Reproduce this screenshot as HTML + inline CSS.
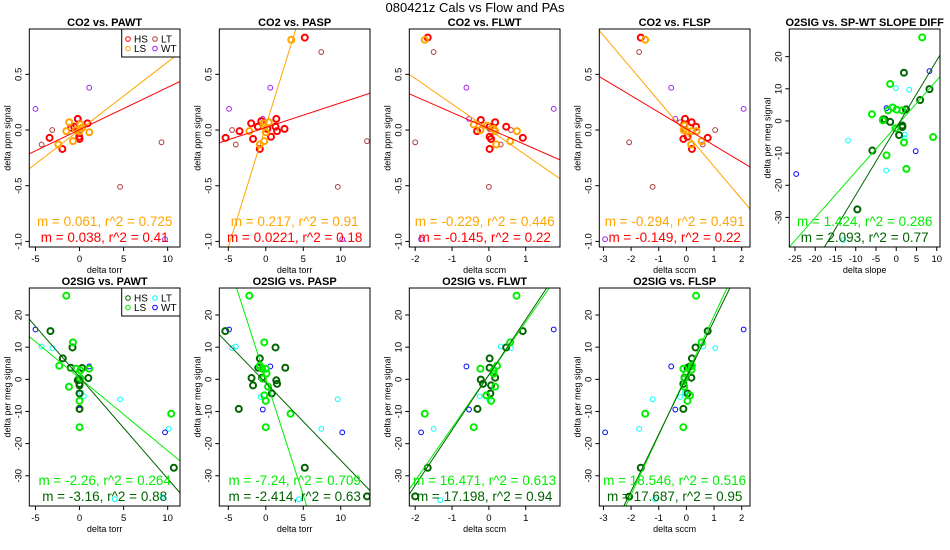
<!DOCTYPE html>
<html><head><meta charset="utf-8">
<style>
html,body{margin:0;padding:0;background:#fff;width:950px;height:550px;overflow:hidden;}
svg{display:block;font-family:"Liberation Sans",Arial,sans-serif;overflow:hidden;}
</style></head>
<body>
<svg id="chart" width="950" height="550" viewBox="0 0 950 550" xmlns="http://www.w3.org/2000/svg">
<text x="475" y="12" text-anchor="middle" font-size="13">080421z   Cals vs Flow and PAs</text>
</svg>
<script>
const co2PawtHS=[[-3.4,-0.07],[-1.95,-0.17],[-0.94,0.02],[-0.04,-0.06],[0,-0.08],[0.9,0.06],[-0.2,0.1],[-0.6,0.03]];
const co2PawtLS=[[-2.4,-0.13],[-1.5,-0.01],[-1.17,0.07],[-0.75,-0.1],[-0.4,0.0],[0.1,0.05],[0.3,0.02],[1.1,-0.02],[0,-0.01]];
const co2PawtLT=[[-3.1,0.0],[-4.3,-0.13],[4.6,-0.51],[9.3,-0.11],[0.1,0.0]];
const co2PawtWT=[[-5.0,0.19],[1.1,0.38],[9.7,-0.98],[-0.2,0.1]];
const co2PaspHS=[[-5.36,-0.07],[-3.5,-0.01],[-1.95,0.06],[-1.7,-0.08],[-1.05,0.03],[-0.8,-0.17],[-0.6,0.08],[0.7,-0.06],[1.3,0.03],[1.4,0.1],[1.5,-0.01],[2.5,0.01],[5.2,0.83],[0.2,0.01]];
const co2PaspLS=[[3.4,0.81],[-2.2,-0.01],[-0.8,-0.13],[-0.2,-0.1],[-0.2,0.03],[0.4,0.07],[0,-0.02],[-0.3,0.06]];
const co2PaspLT=[[-4.5,0],[-4,-0.13],[7.4,0.7],[9.6,-0.51],[13.5,-0.1]];
const co2PaspWT=[[-4.9,0.19],[0.6,0.38],[-0.4,0.1],[10.2,-0.98]];
const co2FlwtHS=[[-1.66,0.83],[-0.22,0.09],[-0.32,-0.01],[0.02,0.03],[0.02,-0.06],[0.06,-0.08],[0.02,-0.17],[0.17,0.07],[0.47,0.03],[0.92,-0.07]];
const co2FlwtLS=[[-1.74,0.81],[-0.41,0.05],[-0.23,0],[-0.05,0.04],[0.13,0.01],[0.17,-0.01],[0.2,-0.13],[0.58,-0.1],[0.76,-0.01]];
const co2FlwtLT=[[-1.5,0.7],[-2.0,-0.11],[0,-0.51],[0.6,0],[0.32,-0.13],[0.02,0.01]];
const co2FlwtWT=[[-0.61,0.38],[1.76,0.19],[-0.54,0.1],[-1.84,-0.98]];
const co2FlspHS=[[-1.65,0.83],[-0.05,0.1],[0.19,0.07],[0.35,0.03],[0.04,-0.06],[-0.11,-0.08],[0.2,-0.17],[0.77,-0.07],[-0.08,0.05]];
const co2FlspLS=[[-1.49,0.81],[-0.07,0.04],[0.01,-0.01],[0.2,-0.01],[0.37,-0.01],[0.17,-0.13],[0.55,-0.1],[-0.1,0]];
const co2FlspLT=[[-1.71,0.7],[-2.07,-0.11],[-1.22,-0.51],[1.04,0],[0.59,-0.13],[-0.07,0.0],[-0.23,0.07]];
const co2FlspWT=[[-0.55,0.38],[2.07,0.19],[-0.4,0.1],[-2.94,-0.98]];
const o2SlopeHS=[[1.9,15],[8.2,9.9],[5.9,6.5],[2.4,3.6],[-3.2,0.5],[-1.5,-0.3],[1.5,-1.4],[1.5,-1.9],[0.7,-4.4],[-5.9,-9.2],[-9.6,-27.5],[-2.8,0.4]];
const o2SlopeLS=[[6.4,26],[-1.5,11.5],[-6,2.1],[-3.3,0.2],[-2,3.3],[-0.9,4.2],[0.1,3.5],[1.5,3.3],[-0.2,-2.3],[1.9,-6.7],[9.1,-5],[-2.4,-10.7],[2.5,-14.9]];
const o2SlopeLT=[[-0.1,10.2],[3.2,9.7],[-11.9,-6.1],[-2.5,-15.4],[2.1,-4.2],[2.1,-5.3],[-13,-37]];
const o2SlopeWT=[[8.2,15.5],[-2.4,4],[4.8,-9.4],[-24.7,-16.5]];
const o2PawtHS=[[-3.3,15],[-1.9,6.5],[-0.8,9.9],[-1.0,3.6],[0.3,3.5],[1.0,0.4],[-0.2,-0.3],[0,-1.4],[0,-1.9],[0,-4.4],[0,-9.2],[10.7,-27.5],[-0.1,0]];
const o2PawtLS=[[-1.5,26],[-0.75,11.5],[-2.3,4.2],[-0.4,3.3],[1.1,3.3],[0.1,2.8],[-1.2,-2.3],[0,-6.7],[0,-14.9],[10.4,-10.7],[0.1,0.3]];
const o2PawtLT=[[-4.3,10.2],[-3.1,9.7],[4.6,-6.2],[10.1,-15.4],[0.5,-5.3],[0.2,-4.2],[4.0,-37.3],[9.4,-36.6]];
const o2PawtWT=[[-5.0,15.5],[1.1,4],[0,-9.4],[9.7,-16.5]];
const o2PaspHS=[[-5.4,15],[-0.8,6.5],[1.3,9.9],[2.6,3.6],[-1.0,3.6],[-1.9,0.4],[-1.7,-1.9],[-0.5,0.5],[1.4,-0.3],[1.5,-1.4],[-3.6,-9.2],[5.2,-27.5],[0.8,-4.4],[13.5,-36.4]];
const o2PaspLS=[[-2.2,26],[-0.2,11.5],[-0.8,4.2],[0,3.3],[-0.5,3.3],[0.1,1.8],[0.3,-2.3],[0,-6.7],[-0.2,-5],[0,-14.9],[3.3,-10.7],[-0.4,0.2]];
const o2PaspLT=[[-4.5,9.7],[-4.0,10.2],[9.6,-6.2],[7.4,-15.4],[-0.7,-5.5],[0.9,-4.3],[4.4,-37.3]];
const o2PaspWT=[[-4.9,15.5],[0.6,4],[-0.4,-9.4],[10.2,-16.5]];
const o2FlwtHS=[[0.92,15],[0.47,9.9],[0.02,6.5],[0.02,3.6],[-0.22,-0.1],[-0.16,-1.4],[0.06,-1.9],[0.17,0.5],[-0.31,-9.2],[0.04,-4.4],[-1.66,-27.5],[-2.0,-36.4]];
const o2FlwtLS=[[0.75,26],[0.58,11.5],[0.22,4.2],[-0.23,3.3],[0.13,2.8],[0.17,-2.3],[-0.07,-5],[0.06,-6.7],[-0.41,-14.9],[-1.74,-10.7],[0.13,1.8]];
const o2FlwtLT=[[0.32,10.2],[0.6,9.7],[-0.25,-5.3],[0,-6.2],[-1.5,-15.4],[-1.32,-37.6]];
const o2FlwtWT=[[-0.61,4],[1.76,15.5],[-0.54,-9.4],[-1.84,-16.5]];
const o2FlspHS=[[0.77,15],[0.33,9.9],[0.2,6.5],[0.04,3.6],[-0.07,0.5],[-0.11,-1.4],[0.18,0.5],[0.04,-4.4],[-0.11,-9.2],[-1.65,-27.5],[-2.07,-36.5],[0.13,4]];
const o2FlspLS=[[0.35,26],[0.55,11.5],[0.2,4.2],[-0.11,3.3],[0.19,3],[0,1.8],[-0.08,-2.3],[0.13,-5],[0.04,-6.7],[-0.11,-14.9],[-1.49,-10.7],[-0.07,0.2]];
const o2FlspLT=[[0.61,10.2],[1.04,9.7],[-1.22,-6.2],[-1.71,-15.4],[-0.23,-5.5],[-0.07,-4.3],[-1.13,-37.3]];
const o2FlspWT=[[-0.55,4],[2.07,15.5],[-0.4,-9.4],[-2.94,-16.5]];
const fitSlopes=[[0.061,0.038],[0.217,0.0221],[-0.229,-0.145],[-0.294,-0.149],[1.424,2.093],[-2.26,-3.16],[-7.24,-2.414],[16.471,17.198],[18.546,17.687]];
const fitIntercepts=[[0.0,0.003],[0.035,0.023],[0.005,0.012],[-0.033,0.011],[-1.6,-2.1],[0.4,0.7],[0.16,-1.07],[1.4,1.4],[1.2,0.6]];
const fitLabels=[["m = 0.061, r^2 = 0.725","m = 0.038, r^2 = 0.41"],["m = 0.217, r^2 = 0.91","m = 0.0221, r^2 = 0.18"],["m = -0.229, r^2 = 0.446","m = -0.145, r^2 = 0.22"],["m = -0.294, r^2 = 0.491","m = -0.149, r^2 = 0.22"],["m = 1.424, r^2 = 0.286","m = 2.093, r^2 = 0.77"],["m = -2.26, r^2 = 0.264","m = -3.16, r^2 = 0.88"],["m = -7.24, r^2 = 0.709","m = -2.414, r^2 = 0.63"],["m = 16.471, r^2 = 0.613","m = 17.198, r^2 = 0.94"],["m = 18.546, r^2 = 0.516","m = 17.687, r^2 = 0.95"]];
const panelTitles=["CO2 vs. PAWT","CO2 vs. PASP","CO2 vs. FLWT","CO2 vs. FLSP","O2SIG vs. SP-WT SLOPE DIFF","O2SIG vs. PAWT","O2SIG vs. PASP","O2SIG vs. FLWT","O2SIG vs. FLSP"];
const xTickSets=[[-5,0,5,10],[-5,0,5,10],[-2,-1,0,1],[-3,-2,-1,0,1,2],[-25,-20,-15,-10,-5,0,5,10],[-5,0,5,10],[-5,0,5,10],[-2,-1,0,1],[-3,-2,-1,0,1,2]];
const yTicksCO2=[-1.0,-0.5,0.0,0.5];
const yTicksO2=[-30,-20,-10,0,10,20];
const xLabels=["delta torr","delta torr","delta sccm","delta sccm","delta slope","delta torr","delta torr","delta sccm","delta sccm"];

const groups=[[co2PawtHS,co2PawtLS,co2PawtLT,co2PawtWT],[co2PaspHS,co2PaspLS,co2PaspLT,co2PaspWT],[co2FlwtHS,co2FlwtLS,co2FlwtLT,co2FlwtWT],[co2FlspHS,co2FlspLS,co2FlspLT,co2FlspWT],[o2SlopeHS,o2SlopeLS,o2SlopeLT,o2SlopeWT],[o2PawtHS,o2PawtLS,o2PawtLT,o2PawtWT],[o2PaspHS,o2PaspLS,o2PaspLT,o2PaspWT],[o2FlwtHS,o2FlwtLS,o2FlwtLT,o2FlwtWT],[o2FlspHS,o2FlspLS,o2FlspLT,o2FlspWT]];
const groupNames=["HS","LS","LT","WT"];
const colLeft=[29.3,219.3,409.3,599.3,789.3], colRight=[180,370,560,750,940];
const xDomains=[[-5.7,11.4],[-6.2,13.9],[-2.16,1.93],[-3.15,2.3],[-26.4,10.8],[-5.7,11.4],[-6.2,13.9],[-2.16,1.93],[-3.15,2.3]];
const rowTop=[29,288], rowBot=[247,506];
const co2Dom=[-1.05,0.907], o2Dom1=[-39.2,28.6], o2Dom2=[-39.4,28.4];
const co2Cols=["#ff0000","#ffa500","#b03c3c","#a020f0"];
const o2Cols=["#006400","#00ee00","#00ffff","#0000ff"];

const NS="http://www.w3.org/2000/svg";
const svg=document.getElementById('chart');
function mk(tag,attrs,parent,txt){const e=document.createElementNS(NS,tag);for(const k in attrs)e.setAttribute(k,attrs[k]);if(txt!==undefined)e.textContent=txt;(parent||svg).appendChild(e);return e;}

for(let p=0;p<9;p++){
  const row=p<5?0:1, col=p<5?p:p-5;
  const L=colLeft[col],R=colRight[col],T=rowTop[row],B=rowBot[row];
  const xd=xDomains[p];
  const isCO2=p<4;
  const yd=isCO2?co2Dom:(row===0?o2Dom1:o2Dom2);
  const cols=isCO2?co2Cols:o2Cols;
  const sx=v=>L+(v-xd[0])/(xd[1]-xd[0])*(R-L);
  const sy=v=>B-(v-yd[0])/(yd[1]-yd[0])*(B-T);
  const g=mk('g',{});
  
  
  const cid='clip'+p;
  const cp=mk('clipPath',{id:cid},g);mk('rect',{x:L,y:T,width:R-L,height:B-T},cp);
  const t=mk('text',{x:(L+R)/2,y:T-3,'text-anchor':'middle','font-size':'11','font-weight':'bold'},g,panelTitles[p]);
  
  
  xTickSets[p].forEach(v=>{const x=sx(v);mk('line',{x1:x,x2:x,y1:B,y2:B+4,stroke:'#000'},g);
    const tl=mk('text',{x:x,y:B+15,'text-anchor':'middle','font-size':'9.5'},g,String(v));
    
    });
  const xa=xTickSets[p];
  mk('line',{x1:sx(xa[0]),x2:sx(xa[xa.length-1]),y1:B,y2:B,stroke:'#000'},g);
  const xl=mk('text',{x:(L+R)/2,y:B+26,'text-anchor':'middle','font-size':'9'},g,xLabels[p]);
  
  
  const yt=isCO2?yTicksCO2:yTicksO2;
  yt.forEach(v=>{const y=sy(v);mk('line',{x1:L-4,x2:L,y1:y,y2:y,stroke:'#000'},g);
    const lbl=isCO2?v.toFixed(1):String(v);
    const tl=mk('text',{x:L-8,y:y,'text-anchor':'middle','font-size':'9.5',transform:`rotate(-90 ${L-8} ${y})`},g,lbl);
    
    });
  const yl=mk('text',{x:L-19,y:(T+B)/2,'text-anchor':'middle','font-size':'9',transform:`rotate(-90 ${L-19} ${(T+B)/2})`},g,isCO2?'delta ppm signal':'delta per meg signal');
  
  
  const pg=mk('g',{'clip-path':`url(#${cid})`},g);
  [2,3,0,1].forEach(gi=>{
    groups[p][gi].forEach(d=>{
      const c=mk('circle',{cx:sx(d[0]),cy:sy(d[1]),r:gi<2?3:2.4,fill:'none',stroke:cols[gi],'stroke-width':gi<2?2:1},pg);
      
      
    });
  });
  [0,1].forEach(k=>{
    const m=fitSlopes[p][k],b=fitIntercepts[p][k];
    // clip line segment to the plot domain
    let x0=xd[0],x1=xd[1];
    if(m!==0){
      const xa1=(yd[0]-b)/m, xa2=(yd[1]-b)/m;
      const lo=Math.min(xa1,xa2), hi=Math.max(xa1,xa2);
      x0=Math.max(x0,lo); x1=Math.min(x1,hi);
    }
    if(x1<=x0) return;
    const ln=mk('line',{x1:sx(x0),y1:sy(m*x0+b),x2:sx(x1),y2:sy(m*x1+b),stroke:cols[k===0?1:0],'stroke-width':1},pg);
    
    
  });
  const a1=mk('text',{x:(L+R)/2,y:B-21,'text-anchor':'middle','font-size':'13.5',fill:cols[1]},g,fitLabels[p][0]);
  
  
  const a2=mk('text',{x:(L+R)/2,y:B-5,'text-anchor':'middle','font-size':'13.5',fill:cols[0]},g,fitLabels[p][1]);
  
  
  mk('rect',{x:L,y:T,width:R-L,height:B-T,fill:'none',stroke:'#000','stroke-width':1},g);
  if(p===0||p===5){
    const lg=mk('g',{},g);
    
    
    mk('rect',{x:121.7,y:T,width:R-121.7,height:28,fill:'#fff',stroke:'#000'},lg);
    const pos=[[128,T+10],[128,T+19.5],[155,T+10],[155,T+19.5]];
    [0,1,2,3].forEach(gi=>{
      const e=mk('g',{},lg);
      
      
      mk('circle',{cx:pos[gi][0],cy:pos[gi][1],r:2.3,fill:'none',stroke:cols[gi],'stroke-width':1},e);
      mk('text',{x:pos[gi][0]+6,y:pos[gi][1]+3.5,'font-size':'10'},e,groupNames[gi]);
    });
  }
}
</script>
</body></html>
